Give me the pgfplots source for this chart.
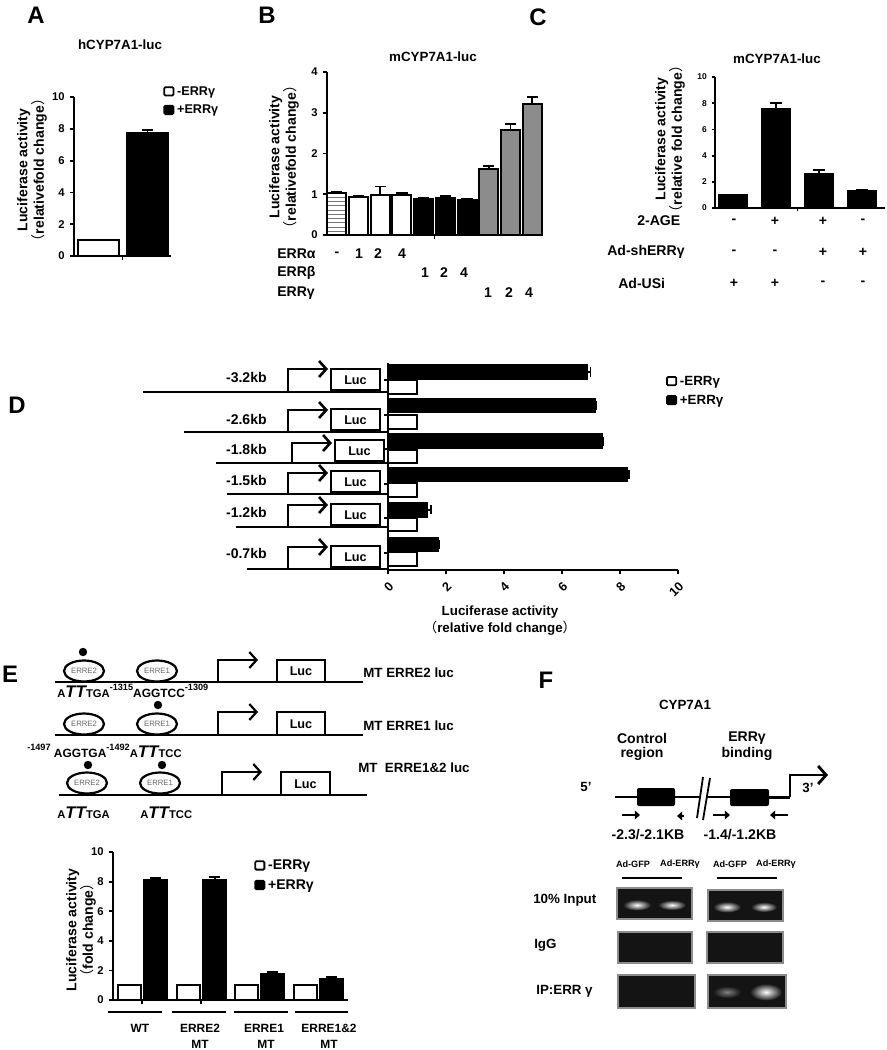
\documentclass[border=0pt]{standalone}
\usepackage{fontspec}
\setmainfont{Liberation Sans}
\newfontfamily\cjk{Noto Sans CJK SC}
\usepackage{pgfplots}
\pgfplotsset{compat=1.18}
\usetikzlibrary{patterns,arrows.meta}

\newcommand\fs[1]{\fontsize{#1}{#1}\selectfont}
\newcommand\lp{{\cjk\mdseries （}}
\newcommand\rp{{\cjk\mdseries ）}}
\newcommand\sq[2]{{\fs{8}A}{\fs{12}\itshape TT}{\fs{8}T#1#2}}
\newcommand\up[1]{\raisebox{1.0ex}{\fs{6.5}#1}}

\pgfplotsset{
  gp/.style={scale only axis, anchor=south west, axis lines*=left, clip=false,
    enlargelimits=false,
    axis line style={line width=0.55mm, black},
    tick align=outside, major tick length=1.1mm,
    major tick style={line width=0.45mm, black},
    /pgf/number format/assume math mode=true,
    tick label style={font=\bfseries\fs{8}},
    every axis plot/.append style={draw=black, line width=0.5mm},
    legend cell align=left,
    legend style={draw=none, fill=none, font=\bfseries\fs{9}, inner sep=0pt, row sep=1.5pt},
  },
  lg/.style={legend image code/.code={\draw[fill=##1, draw=black, line width=0.45mm, rounded corners=0.3mm] (0mm,-0.9mm) rectangle (2.3mm,1.2mm);}},
  eby/.style={error bars/y dir=plus, error bars/y explicit,
    error bars/error bar style={line width=0.45mm, black},
    error bars/error mark options={rotate=90, line width=0.45mm, black, mark size=1.4mm}},
  ebx/.style={error bars/x dir=plus, error bars/x explicit,
    error bars/error bar style={line width=0.45mm, black},
    error bars/error mark options={rotate=90, line width=0.45mm, black, mark size=1.2mm}},
}

\begin{document}
\begin{tikzpicture}
% all drawing below the axes uses the pixel grid of the reference: 1 px = 0.25 mm
\begin{scope}[x=0.25mm, y=-0.25mm,
  t/.style={font=\bfseries\fs{9.5}, inner sep=0pt},
  dl/.style={line width=0.65mm},
  el/.style={line width=0.55mm}]
\useasboundingbox (0,0) rectangle (886,1050);

% panel letters
\foreach \l/\x/\y in {A/36/15, B/267/15, C/538/17, D/17/405, E/10/674, F/546/680}
  \node[t, font=\bfseries\fs{17}] at (\x,\y) {\l};

% ---------------- A
\node[t] at (120,45) {hCYP7A1-luc};
\node[t, rotate=90, align=center, font=\bfseries\fontsize{10}{9.8}\selectfont] at (32,170) {Luciferase activity\\\lp relativefold change\rp};

% ---------------- B
\node[t] at (433,57) {mCYP7A1-luc};
\node[t, rotate=90, align=center, font=\bfseries\fontsize{10}{9.8}\selectfont] at (284,157) {Luciferase activity\\\lp relativefold change\rp};
\node[t, anchor=west, font=\bfseries\fs{10}] at (277,254) {ERRα};
\node[t, anchor=west, font=\bfseries\fs{10}] at (277,273) {ERRβ};
\node[t, anchor=west, font=\bfseries\fs{10}] at (277,293) {ERRγ};
\foreach \s/\x/\y in {-/337/254, 1/359/254, 2/378/254, 4/402/254,
                      1/425/273, 2/444/273, 4/464/273,
                      1/488/293, 2/509/293, 4/529/293}
  \node[t, font=\bfseries\fs{10}] at (\x,\y) {\s};

% ---------------- C
\node[t] at (777,59) {mCYP7A1-luc};
\node[t, rotate=90, align=center, font=\bfseries\fontsize{10}{10.5}\selectfont] at (670,139) {Luciferase activity\\\lp relative fold change\rp};
\node[t, anchor=west, font=\bfseries\fs{10}] at (637,221) {2-AGE};
\node[t, anchor=west, font=\bfseries\fs{10}] at (607,252) {Ad-shERRγ};
\node[t, anchor=west, font=\bfseries\fs{10}] at (618,283) {Ad-USi};
\foreach \s/\x/\y in {-/734/221, +/775/221, +/823/221, -/863/221,
                      -/734/252, -/775/252, +/823/252, +/863/252,
                      +/734/283, +/775/283, -/823/283, -/863/283}
  \node[t, font=\bfseries\fs{10}] at (\x,\y) {\s};

% ---------------- D  (constructs)
\foreach \lab/\ly/\liney/\lx/\ax/\ay/\bx in {
   -3.2kb/377/392/143/288/369/331,
   -2.6kb/419/432/184/288/410/331,
   -1.8kb/449/463/216/292/443/335,
   -1.5kb/480/494/227/288/473/331,
   -1.2kb/512/527/236/288/505/331,
   -0.7kb/553/569/247/288/547/331}{
  \node[t, anchor=east, font=\bfseries\fs{10}] at (267,\ly) {\lab};
  \draw[dl] (\lx,\liney) -- (388,\liney);
  \draw[dl, -{Straight Barb[length=1.8mm, width=4mm]}] (\ax,\liney) -- (\ax,\ay) -- (\ax+40,\ay);
  \draw[dl, fill=white] (\bx,\liney-2) rectangle (\bx+49,\liney-23);
  \node[t, font=\bfseries\fs{9}] at (\bx+24.5,\liney-12) {Luc};
}
\node[t, align=center, font=\bfseries\fontsize{9.5}{12}\selectfont] at (500,621) {Luciferase activity\\\lp relative fold change\rp};

% ---------------- E  (constructs)
\draw[el] (55,682) -- (363,682);
\draw[el, fill=white] (84,671) ellipse [x radius=20, y radius=10.5];
\draw[el, fill=white] (157,671) ellipse [x radius=20, y radius=10.5];
\fill (83,652) circle [radius=4.2];
\draw[el, -{Straight Barb[length=1.8mm, width=4mm]}] (218,682) -- (218,660) -- (258,660);
\draw[el, fill=white] (277,682) rectangle (325,660);
\draw[el] (55,735) -- (363,735);
\draw[el, fill=white] (84,724) ellipse [x radius=20, y radius=10.5];
\draw[el, fill=white] (157,724) ellipse [x radius=20, y radius=10.5];
\fill (158,705) circle [radius=4.2];
\draw[el, -{Straight Barb[length=1.8mm, width=4mm]}] (218,735) -- (218,712) -- (258,712);
\draw[el, fill=white] (277,735) rectangle (325,712);
\draw[el] (59,795) -- (367,795);
\draw[el, fill=white] (87,783) ellipse [x radius=20, y radius=10.5];
\draw[el, fill=white] (160,783) ellipse [x radius=20, y radius=10.5];
\fill (88,765) circle [radius=4.2];
\fill (162,765) circle [radius=4.2];
\draw[el, -{Straight Barb[length=1.8mm, width=4mm]}] (222,795) -- (222,772) -- (262,772);
\draw[el, fill=white] (281,795) rectangle (330,772);
\foreach \x/\y/\s in {84/671/2, 157/671/1, 84/724/2, 157/724/1, 87/783/2, 160/783/1}
  \node[inner sep=0pt, font=\fs{5.5}, text=black!60] at (\x,\y) {ERRE\s};
\foreach \x/\y in {301/671, 301/724, 305.5/784}
  \node[t, font=\bfseries\fs{9}] at (\x,\y) {Luc};
\node[t, anchor=west] at (363,673) {MT ERRE2 luc};
\node[t, anchor=west] at (363,726) {MT ERRE1 luc};
\node[t, anchor=west] at (358,768) {MT\ \ ERRE1\&2 luc};
\node[t, anchor=base west, font=\bfseries\fs{8.5}] at (57,697) {\sq GA\up{-1315}AGGTCC\up{-1309}};
\node[t, anchor=base west, font=\bfseries\fs{8.5}] at (27,757) {\up{-1497} AGGTGA\up{-1492}\sq CC};
\node[t, anchor=base west, font=\bfseries\fs{8.5}] at (57,818) {\sq GA};
\node[t, anchor=base west, font=\bfseries\fs{8.5}] at (140,818) {\sq CC};

% ---------------- E  (chart texts)
\node[t, rotate=90, align=center, font=\bfseries\fontsize{10}{10.5}\selectfont] at (81,930) {Luciferase activity\\\lp fold change\rp};
\draw[line width=0.45mm] (108,1012) -- (162,1012) (172,1012) -- (226,1012)
  (234,1012) -- (288,1012) (295,1012) -- (348,1012);
\node[t, font=\bfseries\fs{8.5}] at (140,1028) {WT};
\node[t, font=\bfseries\fs{8.5}] at (200,1028) {ERRE2};
\node[t, font=\bfseries\fs{8.5}] at (200,1044) {MT};
\node[t, font=\bfseries\fs{8.5}] at (264,1028) {ERRE1};
\node[t, font=\bfseries\fs{8.5}] at (266,1044) {MT};
\node[t, font=\bfseries\fs{8.5}] at (329,1028) {ERRE1\&2};
\node[t, font=\bfseries\fs{8.5}] at (329,1044) {MT};

% ---------------- F
\node[t] at (685,705) {CYP7A1};
\node[t, font=\bfseries\fs{10}] at (642,738) {Control};
\node[t, font=\bfseries\fs{10}] at (642,754) {region};
\node[t, font=\bfseries\fs{10}] at (747,738) {ERRγ};
\node[t, font=\bfseries\fs{10}] at (747,754) {binding};
\node[t] at (586,787) {5'};
\node[t] at (808,788) {3'};
\draw[line width=0.45mm] (615,797) -- (699,797) (706,797) -- (770,797);
\draw[line width=0.75mm] (769,797) -- (790,797);
\draw[line width=0.7mm, -{Straight Barb[length=2mm, width=4.5mm]}] (790,797) -- (790,775) -- (828,775);
\fill[rounded corners=0.5mm] (637,788) rectangle (675,806);
\fill[rounded corners=0.5mm] (730,789) rectangle (769,806);
\draw[line width=0.45mm] (697,818) -- (703,777) (703,820) -- (710,778);
\draw[line width=0.6mm, -{Triangle[length=1.3mm, width=2.2mm]}] (622,815) -- (640,815);
\draw[line width=0.6mm, -{Triangle[length=1.3mm, width=2.2mm]}] (684,816) -- (677,816);
\draw[line width=0.6mm, -{Triangle[length=1.3mm, width=2.2mm]}] (713,815) -- (730,815);
\draw[line width=0.6mm, -{Triangle[length=1.3mm, width=2.2mm]}] (788,815) -- (770,815);
\node[t, font=\bfseries\fs{10}] at (648,835) {-2.3/-2.1KB};
\node[t, font=\bfseries\fs{10}] at (740,835) {-1.4/-1.2KB};
\foreach \x/\s in {633/GFP, 680/ERRγ, 730/GFP, 776/ERRγ}
  \node[t, font=\bfseries\fs{6.5}] at (\x,864) {Ad-\s};
\draw[line width=0.4mm] (622,878) -- (682,878) (717,878) -- (777,878);
\foreach \xa/\ya/\xb/\yb in {617/888/692/919, 708/890/783/921, 618/932/692/963,
                             707/932/783/963, 618/975/695/1008, 708/975/786/1008}
  \filldraw[fill=black!92, draw=black!45, line width=0.3mm] (\xa,\ya) rectangle (\xb,\yb);
\foreach \x/\y/\rx/\ry in {637/905/14/5.5, 672/905/14/5, 727/907/14/5.5, 764/907/13/5, 766/992/16/8.5}
  \shade[inner color=white, outer color=black!92] (\x,\y) ellipse [x radius=\rx, y radius=\ry];
\shade[inner color=black!50, outer color=black!92] (727,992) ellipse [x radius=14, y radius=6];
\node[t, anchor=west] at (533,900) {10\% Input};
\node[t, anchor=west] at (534,945) {IgG};
\node[t, anchor=west] at (536,991) {IP:ERR γ};
\end{scope}

% ---------------- A axis
\begin{axis}[gp, ybar, bar shift=0pt, lg, at={(18.5mm,-64mm)}, width=24.25mm, height=39.75mm,
  xmin=0, xmax=2, ymin=0, ymax=10, ytick={0,2,...,10}, xtick={1}, xticklabels={},
  bar width=0.845, legend style={at={(0.918,1.085)}, anchor=north west}]
\addplot[fill=white] coordinates {(0.505,1)};
\addplot[fill=black, eby] coordinates {(1.515,7.75) +- (0,0.2)};
\legend{-ERRγ,+ERRγ}
\end{axis}

% ---------------- B axis
\begin{axis}[gp, ybar, bar shift=0pt, at={(81.75mm,-58.75mm)}, width=53.75mm, height=40.75mm,
  xmin=-0.45, xmax=9.45, ymin=0, ymax=4, ytick={0,1,2,3,4}, xtick={4.5}, xticklabels={},
  bar width=0.875]
\addplot[fill=white, postaction={pattern=horizontal lines, pattern color=black!55}, eby]
  coordinates {(0,1.02) +- (0,0.04)};
\addplot[fill=white, eby] coordinates {(1,0.93) +- (0,0.04) (2,0.99) +- (0,0.2) (3,0.99) +- (0,0.05)};
\addplot[fill=black, eby] coordinates {(4,0.88) +- (0,0.03) (5,0.92) +- (0,0.04) (6,0.86) +- (0,0.03)};
\addplot[fill=black!45, eby] coordinates {(7,1.61) +- (0,0.08) (8,2.57) +- (0,0.15) (9,3.22) +- (0,0.17)};
\end{axis}

% ---------------- C axis
\begin{axis}[gp, ybar, bar shift=0pt, at={(178.75mm,-52mm)}, width=42.5mm, height=32.75mm,
  xmin=-0.42, xmax=3.535, ymin=0, ymax=10, ytick={0,2,...,10}, xtick={1.5}, xticklabels={},
  bar width=0.65, tick label style={font=\bfseries\fs{6}}, major tick length=0.8mm]
\addplot[fill=black] coordinates {(0,1.0)};
\addplot[fill=black, eby] coordinates {(1,7.54) +- (0,0.48) (2,2.58) +- (0,0.32) (3,1.27) +- (0,0.12)};
\end{axis}

% ---------------- D axis
\begin{axis}[gp, xbar, bar shift=0pt, lg, at={(97mm,-142.5mm)}, width=72.5mm, height=51.75mm,
  xmin=0, xmax=10, ymin=0, ymax=6, xtick={0,2,...,10},
  ytick={0.5,1.5,...,5.5}, yticklabels={}, bar width=0.4,
  x tick label style={rotate=45, anchor=north east, font=\bfseries\fs{9}},
  legend style={at={(0.958,0.952)}, anchor=north west, font=\bfseries\fs{9.5}}]
\addplot[fill=white] coordinates {(1,5.31) (1,4.30) (1,3.29) (1,2.33) (1,1.32) (1,0.31)};
\addplot[fill=black, ebx] coordinates {(6.86,5.74) +- (0.12,0) (7.14,4.77) +- (0.05,0)
  (7.38,3.73) +- (0.03,0) (8.25,2.77) +- (0.06,0) (1.34,1.75) +- (0.15,0) (1.72,0.74) +- (0.03,0)};
\legend{-ERRγ,+ERRγ}
\end{axis}

% ---------------- E axis
\begin{axis}[gp, ybar, bar shift=0pt, lg, at={(28.25mm,-250mm)}, width=58.75mm, height=37mm,
  xmin=0, xmax=4, ymin=0, ymax=10, ytick={0,2,...,10}, xtick={0.5,1.5}, xticklabels={},
  bar width=0.39, legend style={at={(0.6,0.966)}, anchor=north west, font=\bfseries\fs{10}}]
\addplot[fill=white] coordinates {(0.28,1) (1.28,1) (2.27,1) (3.27,1)};
\addplot[fill=black, eby] coordinates {(0.72,8.09) +- (0,0.16) (1.73,8.13) +- (0,0.2)
  (2.71,1.73) +- (0,0.15) (3.72,1.43) +- (0,0.1)};
\legend{-ERRγ,+ERRγ}
\end{axis}
\end{tikzpicture}
\end{document}
